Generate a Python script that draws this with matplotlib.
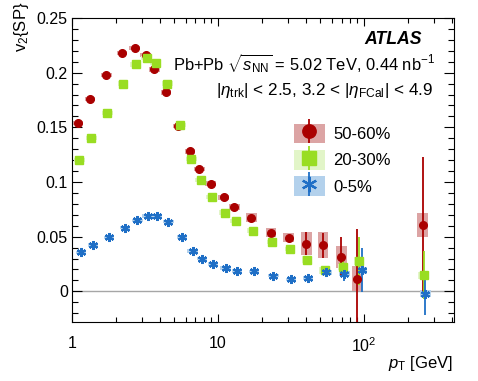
import numpy as np
import matplotlib
matplotlib.use("Agg")
import matplotlib.pyplot as plt
from matplotlib.patches import Patch
from matplotlib.lines import Line2D
from matplotlib.legend_handler import HandlerTuple
from matplotlib.ticker import FixedLocator, FixedFormatter, LogLocator, NullFormatter, MultipleLocator

plt.rcParams["font.family"] = ["Liberation Sans", "DejaVu Sans"]
plt.rcParams["mathtext.fontset"] = "custom"
plt.rcParams["mathtext.rm"] = "Liberation Sans"
plt.rcParams["mathtext.it"] = "Liberation Sans:italic"
plt.rcParams["mathtext.bf"] = "Liberation Sans:bold"

# ---- data ----
labels = ["50-60%", "20-30%", "0-5%"]

pt_5060 = [1.10, 1.33, 1.72, 2.20, 2.69, 3.20, 3.66, 4.41, 5.35, 6.43, 7.45, 8.88,
           10.9, 12.9, 16.9, 23.0, 30.5, 40.1, 52.4, 69.9, 89.5, 252]
v2_5060 = [0.154, 0.176, 0.198, 0.2177, 0.2225, 0.216, 0.203, 0.182, 0.151, 0.128, 0.112, 0.0986,
           0.0859, 0.0773, 0.0675, 0.0535, 0.0491, 0.0436, 0.0421, 0.0315, 0.0116, 0.061]
stat_5060 = [0, 0, 0, 0, 0, 0, 0, 0, 0, 0, 0, 0,
             0, 0, 0.001, 0.0015, 0.002, 0.0104, 0.0115, 0.018, 0.045, 0.062]
sys_5060 = [0.002, 0.002, 0.002, 0.002, 0.002, 0.002, 0.002, 0.002, 0.002, 0.002, 0.002, 0.002,
            0.002, 0.003, 0.004, 0.004, 0.004, 0.0104, 0.012, 0.010, 0.0115, 0.011]

pt_2030 = [1.12, 1.36, 1.75, 2.24, 2.73, 3.25, 3.74, 4.50, 5.52, 6.56, 7.6, 9.05,
           11.1, 13.2, 17.3, 23.4, 31.1, 40.7, 53.8, 71.5, 92.4, 256]
v2_2030 = [0.120, 0.1405, 0.163, 0.190, 0.2075, 0.2136, 0.209, 0.190, 0.152, 0.1209, 0.1016, 0.0861,
           0.072, 0.0646, 0.0555, 0.0454, 0.0385, 0.029, 0.0192, 0.0224, 0.0277, 0.0147]
stat_2030 = [0, 0, 0, 0, 0, 0, 0, 0, 0, 0, 0, 0,
             0, 0, 0.001, 0.001, 0.001, 0.001, 0.002, 0.006, 0.022, 0.022]
sys_2030 = [0.002, 0.002, 0.002, 0.002, 0.002, 0.002, 0.002, 0.002, 0.002, 0.002, 0.002, 0.002,
            0.002, 0.002, 0.002, 0.002, 0.002, 0.003, 0.003, 0.003, 0.004, 0.003]

pt_005 = [1.15, 1.39, 1.79, 2.31, 2.80, 3.30, 3.81, 4.57, 5.67, 6.70, 7.77, 9.24,
          11.3, 13.5, 17.6, 23.9, 31.6, 41.3, 55.0, 73.3, 96.4, 263]
v2_005 = [0.0357, 0.0424, 0.0494, 0.0583, 0.065, 0.069, 0.069, 0.0636, 0.0498, 0.037, 0.030, 0.0251,
          0.0214, 0.0186, 0.0183, 0.0142, 0.011, 0.0122, 0.0174, 0.0162, 0.0192, -0.0021]
stat_005 = [0, 0, 0, 0, 0, 0, 0, 0, 0, 0, 0, 0,
            0, 0, 0.0005, 0.0005, 0.0008, 0.001, 0.002, 0.007, 0.020, 0.0197]
sys_005 = [0.0015, 0.0015, 0.0015, 0.0015, 0.0015, 0.0015, 0.0015, 0.0015, 0.0015, 0.0015, 0.0015, 0.0015,
           0.0015, 0.0015, 0.0015, 0.0015, 0.0015, 0.002, 0.002, 0.002, 0.003, 0.003]

# ---- styles ----
red = "#aa0000"
green = "#99dd22"
blue = "#1f6fc6"
red_box = "#dca4a4"
green_box = "#e2f5c8"
blue_box = "#b3d1ec"

fig, ax = plt.subplots(figsize=(4.78, 3.81), dpi=100)
fig.subplots_adjust(left=0.1506, right=0.950, top=0.9528, bottom=0.1549)

ax.axhline(0, color="0.65", lw=1.0, zorder=1)

series = [
    (pt_5060, v2_5060, stat_5060, sys_5060, red, red_box, "o", 5.5),
    (pt_2030, v2_2030, stat_2030, sys_2030, green, green_box, "s", 5.8),
    (pt_005, v2_005, stat_005, sys_005, blue, blue_box, (6, 2, 0), 6.5),
]

box_half = 10 ** 0.0366  # constant width on the log axis
handles = []
for pt, v2, stat, sysu, col, bcol, mk, ms in series:
    pt = np.array(pt)
    v2 = np.array(v2)
    sysu = np.array(sysu)
    lo = pt / box_half
    hi = pt * box_half
    ax.bar(lo, 2 * sysu, width=hi - lo, bottom=v2 - sysu, align="edge",
           color=bcol, edgecolor="none", zorder=2)
    ax.errorbar(pt, v2, yerr=stat, fmt="none", ecolor=col, elinewidth=1.3, capsize=0, zorder=3)
    if mk == (6, 2, 0):
        ax.plot(pt, v2, ls="none", marker=mk, ms=ms, mec=col, mew=1.6, zorder=4)
    else:
        ax.plot(pt, v2, ls="none", marker=mk, ms=ms, color=col, mec=col, zorder=4)
    h = (Patch(facecolor=bcol, edgecolor="none"),
         Line2D([], [], ls="none", marker="|", ms=17.5, mew=1.3, color=col),
         Line2D([], [], ls="none", marker=mk, ms=ms * 1.75 if mk != (6, 2, 0) else ms * 1.7,
                color=col, mec=col, mew=1.6 if mk == (6, 2, 0) else 1.0))
    handles.append(h)

ax.set_xscale("log")
ax.set_xlim(1, 413)
ax.set_ylim(-0.028, 0.25)

ax.xaxis.set_major_locator(FixedLocator([1, 10, 100]))
ax.xaxis.set_major_formatter(FixedFormatter(["1", "10", "$10^2$"]))
ax.xaxis.set_minor_locator(LogLocator(base=10, subs=np.arange(2, 10), numticks=20))
ax.xaxis.set_minor_formatter(NullFormatter())
ax.yaxis.set_major_locator(FixedLocator([0, 0.05, 0.1, 0.15, 0.2, 0.25]))
ax.yaxis.set_major_formatter(FixedFormatter(["0", "0.05", "0.1", "0.15", "0.2", "0.25"]))
ax.yaxis.set_minor_locator(MultipleLocator(0.01))

ax.tick_params(which="both", direction="in", top=True, right=True, labelsize=11.5, width=0.8)
ax.tick_params(axis="y", which="major", length=7, pad=3)
ax.tick_params(axis="y", which="minor", length=4)
ax.tick_params(axis="x", which="major", length=6, pad=10)
ax.tick_params(axis="x", which="minor", length=3.5)
for s in ax.spines.values():
    s.set_linewidth(0.8)

ax.set_xlabel("$p_{\\mathrm{T}}$ [GeV]", fontsize=12, ha="right", va="top")
ax.xaxis.set_label_coords(0.997, -0.105)
ax.set_ylabel("v$_2${SP}", fontsize=12, ha="right", va="center")
ax.yaxis.set_label_coords(-0.131, 1.053)

ax.text(0.916, 0.928, "ATLAS", transform=ax.transAxes, ha="right", va="center",
        fontsize=12.7, fontweight="bold", fontstyle="italic")
ax.text(0.950, 0.849, "Pb+Pb $\\sqrt{s_{\\mathrm{NN}}}$ = 5.02 TeV, 0.44 nb$^{-1}$",
        transform=ax.transAxes, ha="right", va="center", fontsize=11.9)
ax.text(0.945, 0.76, "$|\\eta_{\\mathrm{trk}}|$ < 2.5, 3.2 < $|\\eta_{\\mathrm{FCal}}|$ < 4.9",
        transform=ax.transAxes, ha="right", va="center", fontsize=12.3)

ax.legend(handles, labels, handler_map={tuple: HandlerTuple(ndivide=1)},
          loc="upper left", bbox_to_anchor=(0.581, 0.652), frameon=False,
          fontsize=12, handlelength=1.86, handleheight=1.44, handletextpad=0.5,
          labelspacing=0.4, borderpad=0, borderaxespad=0)

fig.savefig("out.png", dpi=100)
